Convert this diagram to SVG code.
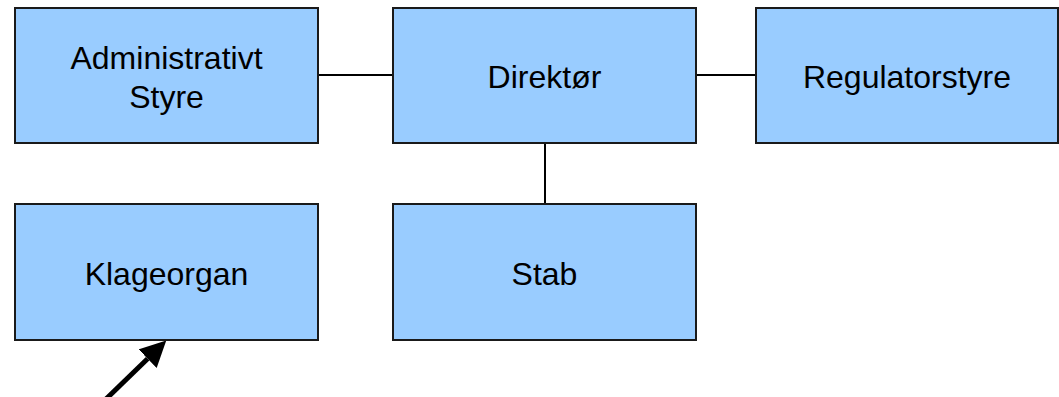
<svg xmlns="http://www.w3.org/2000/svg" width="1059" height="397" viewBox="0 0 1059 397">
  <style>
    .box { fill: #99CCFF; stroke: #1a1a1a; stroke-width: 2; }
    .lbl { font-family: "Liberation Sans", Arial, sans-serif; font-size: 32px; fill: #000; text-anchor: middle; }
    .conn { stroke: #000; stroke-width: 2; fill: none; }
    .arrow { stroke: #000; stroke-width: 5; fill: none; }
  </style>
  <defs>
    <marker id="head" markerUnits="userSpaceOnUse" viewBox="0 0 26 26" refX="0" refY="13" markerWidth="26" markerHeight="26" orient="auto">
      <path d="M0,0 L26,13 L0,26 z" fill="#000"/>
    </marker>
  </defs>
  <rect width="1059" height="397" fill="#fff"/>
  <g id="connectors">
    <line class="conn" x1="318" y1="75" x2="393" y2="75"/>
    <line class="conn" x1="696" y1="75" x2="756" y2="75"/>
    <line class="conn" x1="545" y1="143" x2="545" y2="204"/>
    <line class="arrow" x1="104" y1="401" x2="147.6" y2="358.7" marker-end="url(#head)"/>
  </g>
  <g id="admin">
    <rect class="box" x="15" y="8" width="303" height="135"/>
    <text class="lbl" x="166.5" y="69">Administrativt</text>
    <text class="lbl" x="166.5" y="108">Styre</text>
  </g>
  <g id="direktor">
    <rect class="box" x="393" y="8" width="303" height="135"/>
    <text class="lbl" x="544.5" y="88">Direktør</text>
  </g>
  <g id="regulator">
    <rect class="box" x="756" y="8" width="302" height="135"/>
    <text class="lbl" x="907" y="88">Regulatorstyre</text>
  </g>
  <g id="klageorgan">
    <rect class="box" x="15" y="204" width="303" height="136"/>
    <text class="lbl" x="166.5" y="285">Klageorgan</text>
  </g>
  <g id="stab">
    <rect class="box" x="393" y="204" width="303" height="136"/>
    <text class="lbl" x="544.5" y="285">Stab</text>
  </g>
</svg>
